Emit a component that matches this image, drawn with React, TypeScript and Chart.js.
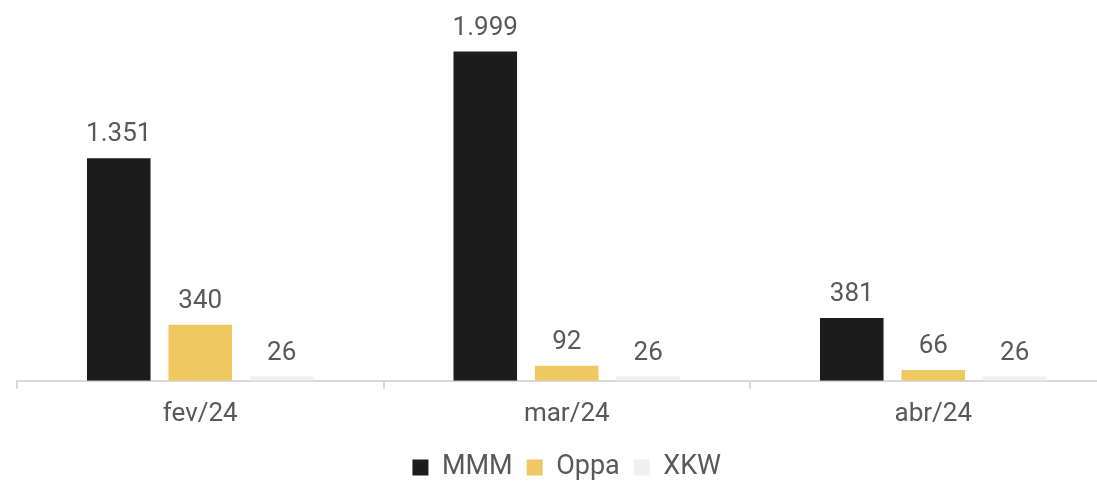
import React, { useEffect, useRef } from "react";
import { Chart, registerables } from "chart.js";

Chart.register(...registerables);

const categories = ["fev/24", "mar/24", "abr/24"];
const mmmValues = [1351, 1999, 381];
const oppaValues = [340, 92, 66];
const xkwValues = [26, 26, 26];
const seriesNames = ["MMM", "Oppa", "XKW"];
const seriesColors = ["#1c1c1c", "#f0c862", "#f0f0f0"];

const FONT = "Roboto, 'Noto Sans', sans-serif";

function fmt(v: number): string {
  const s = Math.round(v).toString();
  return s.replace(/\B(?=(\d{3})+(?!\d))/g, ".");
}

const labelPlugin = {
  id: "barLabels",
  afterDatasetsDraw(chart: any) {
    const ctx = chart.ctx;
    ctx.save();
    ctx.font = `26px ${FONT}`;
    ctx.fillStyle = "#595959";
    ctx.textAlign = "center";
    ctx.textBaseline = "alphabetic";
    chart.data.datasets.forEach((ds: any, i: number) => {
      const meta = chart.getDatasetMeta(i);
      meta.data.forEach((el: any, j: number) => {
        ctx.fillText(fmt(ds.data[j]), el.x, el.y - 17);
      });
    });
    ctx.restore();
  },
};

export default function App() {
  const ref = useRef<HTMLCanvasElement | null>(null);
  useEffect(() => {
    if (!ref.current) return;
    const data = [mmmValues, oppaValues, xkwValues];
    const chart = new Chart(ref.current, {
      type: "bar",
      data: {
        labels: categories,
        datasets: seriesNames.map((name, i) => ({
          label: name,
          data: data[i],
          backgroundColor: seriesColors[i],
          borderWidth: 0,
          categoryPercentage: 0.667,
          barPercentage: 0.78,
        })),
      },
      options: {
        responsive: false,
        animation: false,
        layout: { padding: { left: 17, right: 39.5, top: 2, bottom: 0 } },
        plugins: {
          tooltip: { enabled: false },
          legend: {
            position: "bottom",
            labels: {
              font: { family: FONT, size: 27 },
              color: "#595959",
              boxWidth: 16,
              boxHeight: 16,
              padding: 14,
            },
          },
        },
        scales: {
          x: {
            grid: {
              display: true,
              drawOnChartArea: false,
              drawTicks: true,
              tickLength: 8,
              offset: true,
              color: "#d9d9d9",
              lineWidth: 2,
            },
            border: { display: true, color: "#d9d9d9", width: 2 },
            ticks: {
              font: { family: FONT, size: 26 },
              color: "#595959",
              padding: 10,
            },
          },
          y: {
            display: false,
            min: 0,
            max: 2300,
          },
        },
      },
      plugins: [labelPlugin],
    });
    return () => chart.destroy();
  }, []);
  return (
    <div
      style={{
        position: "fixed",
        left: 0,
        top: 0,
        width: 1097,
        height: 482,
        overflow: "hidden",
        background: "#fff",
      }}
    >
      <canvas ref={ref} width={1156} height={491} style={{ display: "block" }} />
    </div>
  );
}
